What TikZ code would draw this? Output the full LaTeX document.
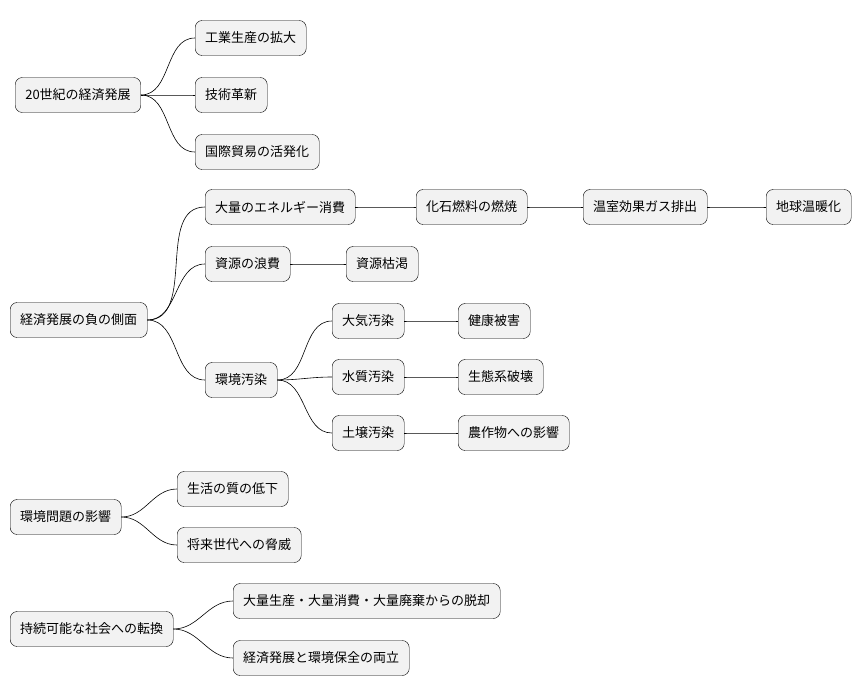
\documentclass[tikz,border=0pt]{standalone}
\usepackage{fontspec}
\setmainfont{Noto Sans CJK JP}
\usetikzlibrary{positioning}
\tikzset{
  idea/.style={draw, fill=gray!10, rounded corners=7pt, minimum height=35pt, inner xsep=10pt, font=\fontsize{13}{15}\selectfont},
  link/.style={draw, line width=0.6pt}
}
\begin{document}
\begin{tikzpicture}[x=1pt, y=-1pt]
\useasboundingbox (0,0) rectangle (866,696);

%20世紀
\node[idea] (keizai) at (78,95) {20世紀の経済発展};
\node[idea, anchor=west] (kogyo) at (195,38) {工業生産の拡大};
\node[idea, anchor=west] (gijutsu) at (195,95) {技術革新};
\node[idea, anchor=west] (boeki) at (195,152) {国際貿易の活発化};

%負の側面
\node[idea, anchor=west] (fu) at (10,320) {経済発展の負の側面};
\node[idea, anchor=west] (energy) at (205,207) {大量のエネルギー消費};
\node[idea, anchor=west] (nenryo) at (416,207) {化石燃料の燃焼};
\node[idea, anchor=west] (gas) at (583,207) {温室効果ガス排出};
\node[idea, anchor=west] (ondanka) at (766,207) {地球温暖化};
\node[idea, anchor=west] (roh) at (205,264) {資源の浪費};
\node[idea, anchor=west] (kokatsu) at (346,264) {資源枯渇};
\node[idea, anchor=west] (osen) at (205,380) {環境汚染};
\node[idea, anchor=west] (taiki) at (332,321) {大気汚染};
\node[idea, anchor=west] (kenko) at (458,321) {健康被害};
\node[idea, anchor=west] (suishitsu) at (332,377) {水質汚染};
\node[idea, anchor=west] (seitai) at (458,377) {生態系破壊};
\node[idea, anchor=west] (dojo) at (332,433) {土壌汚染};
\node[idea, anchor=west] (nosaku) at (458,433) {農作物への影響};

%影響
\node[idea, anchor=west] (eikyo) at (10,517) {環境問題の影響};
\node[idea, anchor=west] (shitsu) at (177,489) {生活の質の低下};
\node[idea, anchor=west] (shorai) at (177,545) {将来世代への脅威};

%転換
\node[idea, anchor=west] (tenkan) at (10,629) {持続可能な社会への転換};
\node[idea, anchor=west] (dakkyaku) at (233,601) {大量生産・大量消費・大量廃棄からの脱却};
\node[idea, anchor=west] (ryoritsu) at (233,658) {経済発展と環境保全の両立};

%conexões
\foreach \a/\b in {keizai/kogyo, keizai/gijutsu, keizai/boeki,
  fu/energy, fu/roh, fu/osen, energy/nenryo, nenryo/gas, gas/ondanka,
  roh/kokatsu, osen/taiki, osen/suishitsu, osen/dojo,
  taiki/kenko, suishitsu/seitai, dojo/nosaku,
  eikyo/shitsu, eikyo/shorai, tenkan/dakkyaku, tenkan/ryoritsu}
  \draw[link] (\a.east) to[out=0, in=180] (\b.west);

\end{tikzpicture}
\end{document}
